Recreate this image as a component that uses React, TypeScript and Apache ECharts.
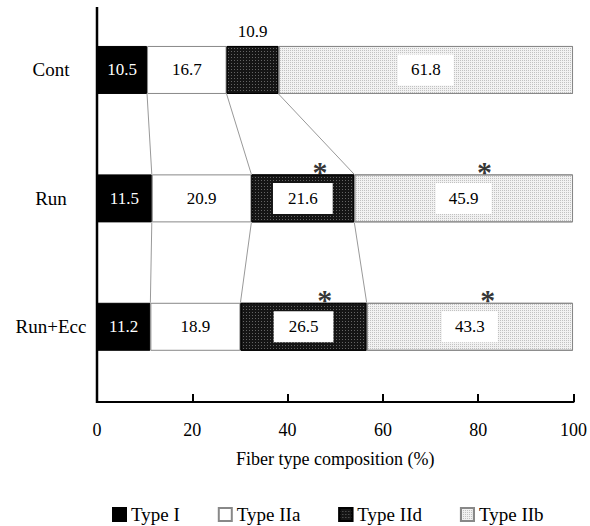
import React, { useEffect, useRef } from "react";
import * as echarts from "echarts";

const categories = ["Cont", "Run", "Run+Ecc"];
const typeI = [10.5, 11.5, 11.2];
const typeIIa = [16.7, 20.9, 18.9];
const typeIId = [10.9, 21.6, 26.5];
const typeIIb = [61.8, 45.9, 43.3];
const seriesNames = ["Type I", "Type IIa", "Type IId", "Type IIb"];
const xMin = 0;
const xMax = 100;
const xStep = 20;
const asteriskX = [46.8, 81.3, 47.8, 82.0];
const asteriskCat = ["Run", "Run", "Run+Ecc", "Run+Ecc"];

const FONT = "Liberation Serif";
const BAR_W = 48;

export default function App() {
  const ref = useRef<HTMLDivElement>(null);
  useEffect(() => {
    if (!ref.current) return;
    const chart = echarts.init(ref.current, null, { renderer: "svg" });
    const boxLabel = (pad: number[]) => ({
      show: true,
      position: "inside",
      color: "#000",
      backgroundColor: "#fff",
      padding: pad,
      fontSize: 17,
      fontFamily: FONT,
    });
    const option: any = {
      animation: false,
      textStyle: { fontFamily: FONT },
      grid: { left: 97, right: 16, top: 5.75, bottom: 135, containLabel: false },
      legend: {
        data: seriesNames,
        icon: "rect",
        left: 112,
        top: 505,
        padding: 0,
        itemWidth: 13,
        itemHeight: 13,
        itemGap: 38,
        textStyle: { fontSize: 19, fontFamily: FONT, color: "#000" },
      },
      xAxis: {
        type: "value",
        min: xMin,
        max: xMax,
        interval: xStep,
        offset: 11,
        axisLine: { show: true, lineStyle: { color: "#000", width: 2 } },
        axisTick: { show: true, inside: true, length: 8, lineStyle: { color: "#000", width: 2 } },
        splitLine: { show: false },
        axisLabel: { fontSize: 18, fontFamily: FONT, color: "#000", margin: 19 },
        name: "Fiber type composition (%)",
        nameLocation: "middle",
        nameGap: 48,
        nameTextStyle: { fontSize: 18, fontFamily: FONT, color: "#000" },
      },
      yAxis: {
        type: "category",
        data: categories,
        inverse: true,
        axisLine: { show: false },
        axisTick: { show: false },
        axisLabel: { fontSize: 19, fontFamily: FONT, color: "#000", margin: 46, align: "center" },
      },
      series: [
        {
          name: seriesNames[0],
          type: "bar",
          stack: "t",
          barWidth: BAR_W,
          data: typeI,
          itemStyle: { color: "#000", borderColor: "#000", borderWidth: 1 },
          label: { show: true, position: "inside", color: "#fff", fontSize: 17, fontFamily: FONT },
        },
        {
          name: seriesNames[1],
          type: "bar",
          stack: "t",
          barWidth: BAR_W,
          data: typeIIa,
          itemStyle: { color: "#fff", borderColor: "#888", borderWidth: 1 },
          label: { show: true, position: "inside", color: "#000", fontSize: 17, fontFamily: FONT },
        },
        {
          name: seriesNames[2],
          type: "bar",
          stack: "t",
          barWidth: BAR_W,
          data: typeIId.map((v, i) =>
            i === 0
              ? {
                  value: v,
                  label: {
                    show: true,
                    position: "top",
                    color: "#000",
                    backgroundColor: "transparent",
                    padding: 0,
                    fontSize: 17,
                    fontFamily: FONT,
                    distance: 6,
                  },
                }
              : { value: v }
          ),
          itemStyle: {
            color: "#151515",
            borderColor: "#000",
            borderWidth: 1,
            decal: {
              symbol: "rect",
              symbolSize: 1,
              dashArrayX: [1, 2],
              dashArrayY: [1, 2],
              color: "rgba(120,120,120,0.8)",
            },
          },
          label: boxLabel([7, 15]),
        },
        {
          name: seriesNames[3],
          type: "bar",
          stack: "t",
          barWidth: BAR_W,
          data: typeIIb,
          itemStyle: {
            color: "#f2f2f2",
            borderColor: "#888",
            borderWidth: 1,
            decal: {
              symbol: "rect",
              symbolSize: 1,
              dashArrayX: [1, 1],
              dashArrayY: [1, 1],
              color: "rgba(160,160,160,0.6)",
            },
          },
          label: boxLabel([7, 13]),
        },
        {
          name: "sig",
          type: "scatter",
          data: asteriskX.map((x, i) => [x, asteriskCat[i]]),
          symbol: "circle",
          symbolSize: 4,
          itemStyle: { color: "transparent" },
          label: {
            show: true,
            formatter: "*",
            position: "inside",
            offset: [0, -27],
            fontSize: 30,
            fontWeight: "bold",
            fontFamily: FONT,
            color: "#000",
          },
          z: 5,
        },
      ],
    };
    chart.setOption(option);

    const px = (v: number) => chart.convertToPixel({ xAxisIndex: 0 }, v) as number;
    const py = (c: string) => chart.convertToPixel({ yAxisIndex: 0 }, c) as number;
    const bounds = categories.map((_, i) => [
      typeI[i],
      typeI[i] + typeIIa[i],
      typeI[i] + typeIIa[i] + typeIId[i],
    ]);
    const graphics: any[] = [];
    for (let i = 0; i < categories.length - 1; i++) {
      const yb = py(categories[i]) + BAR_W / 2;
      const yt = py(categories[i + 1]) - BAR_W / 2;
      for (let k = 0; k < 3; k++) {
        graphics.push({
          type: "line",
          shape: { x1: px(bounds[i][k]), y1: yb, x2: px(bounds[i + 1][k]), y2: yt },
          style: { stroke: "#999", lineWidth: 1 },
          silent: true,
        });
      }
    }
    const x0 = px(xMin);
    graphics.push({
      type: "line",
      shape: { x1: x0, y1: 7, x2: x0, y2: 403 },
      style: { stroke: "#000", lineWidth: 2.5 },
      z: 10,
      silent: true,
    });
    chart.setOption({ graphic: graphics });

    return () => chart.dispose();
  }, []);
  return (
    <div
      ref={ref}
      style={{ position: "fixed", left: 0, top: 0, width: 590, height: 526, background: "#fff" }}
    />
  );
}
